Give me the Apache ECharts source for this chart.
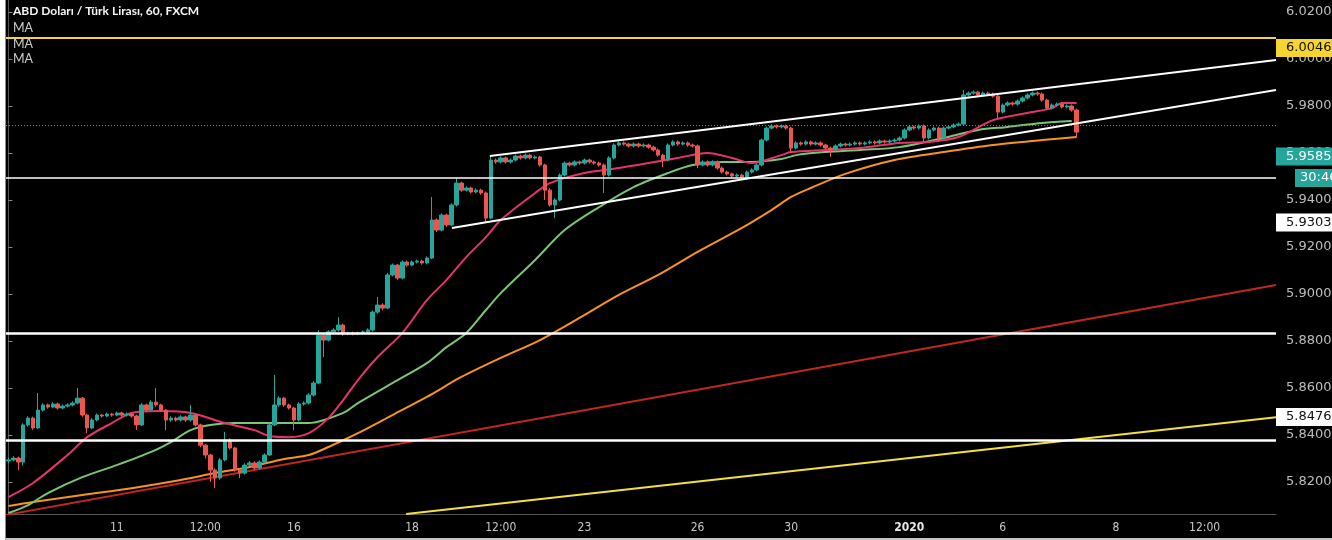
<!DOCTYPE html>
<html><head><meta charset="utf-8">
<script src="https://cdn.jsdelivr.net/npm/echarts@6/dist/echarts.min.js"></script>
<style>
html,body{margin:0;padding:0;background:#fff;width:1332px;height:540px;overflow:hidden}
#c{position:absolute;left:5px;top:0;width:1326px;height:538px;border-left:1px solid #8a8a8a;border-bottom:2px solid #c4c4c4;background:#000}
</style></head><body><div id="c"></div>
<script>
// ---------- data ----------
const slotCount = 258; // 2-hour slots across the visible time range
const tickSlots = [22, 40, 58, 82, 100, 117, 140, 159, 183, 202, 225, 243];
const tickLabels = ['11', '12:00', '16', '18', '12:00', '23', '26', '30', '2020', '6', '8', '12:00'];
const priceTicks = [5.82, 5.84, 5.86, 5.88, 5.90, 5.92, 5.94, 5.96, 5.98, 6.00, 6.02];
const titleText = 'ABD Doları / Türk Lirası, 60, FXCM';
const legendTexts = ['MA', 'MA', 'MA'];

// candles: [open, close, low, high]
const candles = [
[5.8290,5.8294,5.8280,5.8305],[5.8294,5.8302,5.8288,5.8310],[5.8302,5.8285,5.8251,5.8308],[5.8285,5.8443,5.8270,5.8450],
[5.8443,5.8472,5.8436,5.8480],[5.8472,5.8430,5.8422,5.8478],[5.8430,5.8506,5.8425,5.8579],[5.8506,5.8528,5.8500,5.8535],
[5.8528,5.8519,5.8512,5.8534],[5.8519,5.8532,5.8514,5.8540],[5.8532,5.8515,5.8508,5.8538],[5.8515,5.8523,5.8510,5.8530],
[5.8523,5.8528,5.8518,5.8535],[5.8528,5.8536,5.8522,5.8544],[5.8536,5.8557,5.8530,5.8600],[5.8557,5.8485,5.8478,5.8562],
[5.8485,5.8430,5.8408,5.8490],[5.8430,5.8464,5.8425,5.8472],[5.8464,5.8485,5.8458,5.8492],[5.8485,5.8481,5.8474,5.8490],
[5.8481,5.8489,5.8476,5.8496],[5.8489,5.8485,5.8478,5.8494],[5.8485,5.8494,5.8480,5.8500],[5.8494,5.8485,5.8478,5.8499],
[5.8485,5.8489,5.8479,5.8496],[5.8489,5.8481,5.8474,5.8494],[5.8481,5.8443,5.8421,5.8486],[5.8443,5.8528,5.8438,5.8536],
[5.8528,5.8506,5.8498,5.8534],[5.8506,5.8540,5.8500,5.8548],[5.8540,5.8528,5.8520,5.8600],[5.8528,5.8506,5.8498,5.8533],
[5.8506,5.8464,5.8421,5.8510],[5.8464,5.8472,5.8456,5.8480],[5.8472,5.8464,5.8457,5.8478],[5.8464,5.8477,5.8458,5.8484],
[5.8477,5.8464,5.8456,5.8482],[5.8464,5.8485,5.8458,5.8528],[5.8485,5.8443,5.8436,5.8490],[5.8443,5.8357,5.8348,5.8448],
[5.8357,5.8315,5.8300,5.8362],[5.8315,5.8251,5.8200,5.8320],[5.8251,5.8217,5.8174,5.8258],[5.8217,5.8294,5.8210,5.8302],
[5.8294,5.8379,5.8288,5.8413],[5.8379,5.8345,5.8338,5.8386],[5.8345,5.8251,5.8244,5.8350],[5.8251,5.8238,5.8217,5.8258],
[5.8238,5.8272,5.8232,5.8280],[5.8272,5.8281,5.8266,5.8290],[5.8281,5.8260,5.8252,5.8288],[5.8260,5.8285,5.8254,5.8292],
[5.8285,5.8315,5.8280,5.8322],[5.8315,5.8443,5.8310,5.8450],[5.8443,5.8528,5.8438,5.8655],[5.8528,5.8557,5.8520,5.8565],
[5.8557,5.8528,5.8520,5.8562],[5.8528,5.8515,5.8508,5.8534],[5.8515,5.8464,5.8421,5.8520],[5.8464,5.8532,5.8458,5.8540],
[5.8532,5.8536,5.8525,5.8543],[5.8536,5.8570,5.8530,5.8578],[5.8570,5.8621,5.8564,5.8630],[5.8621,5.8825,5.8616,5.8847],
[5.8825,5.8804,5.8732,5.8832],[5.8804,5.8839,5.8798,5.8846],[5.8839,5.8847,5.8832,5.8855],[5.8847,5.8868,5.8840,5.8902],
[5.8868,5.8830,5.8822,5.8874],[5.8830,5.8834,5.8825,5.8840],[5.8834,5.8830,5.8824,5.8840],[5.8830,5.8834,5.8825,5.8840],
[5.8834,5.8839,5.8828,5.8845],[5.8839,5.8847,5.8832,5.8854],[5.8847,5.8923,5.8840,5.8930],[5.8923,5.8953,5.8916,5.8987],
[5.8953,5.8940,5.8930,5.8960],[5.8940,5.9081,5.8935,5.9090],[5.9081,5.9123,5.9075,5.9130],[5.9123,5.9068,5.9060,5.9128],
[5.9068,5.9136,5.9062,5.9143],[5.9136,5.9123,5.9116,5.9142],[5.9123,5.9136,5.9118,5.9143],[5.9136,5.9140,5.9130,5.9146],
[5.9140,5.9132,5.9125,5.9146],[5.9132,5.9153,5.9126,5.9160],[5.9153,5.9315,5.9148,5.9413],[5.9315,5.9272,5.9264,5.9322],
[5.9272,5.9336,5.9266,5.9344],[5.9336,5.9294,5.9286,5.9342],[5.9294,5.9379,5.9288,5.9386],[5.9379,5.9472,5.9372,5.9494],
[5.9472,5.9442,5.9435,5.9478],[5.9442,5.9451,5.9436,5.9458],[5.9451,5.9434,5.9427,5.9457],[5.9434,5.9442,5.9428,5.9449],
[5.9442,5.9430,5.9422,5.9448],[5.9430,5.9323,5.9302,5.9436],[5.9323,5.9570,5.9318,5.9591],[5.9570,5.9562,5.9554,5.9577],
[5.9562,5.9579,5.9556,5.9586],[5.9579,5.9562,5.9555,5.9585],[5.9562,5.9570,5.9556,5.9577],[5.9570,5.9587,5.9564,5.9594],
[5.9587,5.9579,5.9572,5.9593],[5.9579,5.9591,5.9573,5.9598],[5.9591,5.9579,5.9572,5.9597],[5.9579,5.9583,5.9573,5.9590],
[5.9583,5.9549,5.9542,5.9588],[5.9549,5.9442,5.9400,5.9554],[5.9442,5.9379,5.9372,5.9450],[5.9379,5.9400,5.9323,5.9408],
[5.9400,5.9506,5.9394,5.9513],[5.9506,5.9557,5.9500,5.9564],[5.9557,5.9549,5.9542,5.9563],[5.9549,5.9562,5.9543,5.9569],
[5.9562,5.9557,5.9550,5.9568],[5.9557,5.9570,5.9551,5.9577],[5.9570,5.9562,5.9555,5.9576],[5.9562,5.9557,5.9550,5.9568],
[5.9557,5.9549,5.9542,5.9563],[5.9549,5.9506,5.9430,5.9555],[5.9506,5.9579,5.9500,5.9586],[5.9579,5.9634,5.9573,5.9641],
[5.9634,5.9643,5.9628,5.9650],[5.9643,5.9638,5.9631,5.9649],[5.9638,5.9630,5.9623,5.9644],[5.9630,5.9638,5.9624,5.9645],
[5.9638,5.9630,5.9623,5.9644],[5.9630,5.9634,5.9624,5.9641],[5.9634,5.9625,5.9618,5.9640],[5.9625,5.9613,5.9606,5.9631],
[5.9613,5.9591,5.9584,5.9619],[5.9591,5.9570,5.9540,5.9597],[5.9570,5.9634,5.9564,5.9641],[5.9634,5.9647,5.9628,5.9654],
[5.9647,5.9638,5.9631,5.9653],[5.9638,5.9643,5.9632,5.9650],[5.9643,5.9634,5.9627,5.9649],[5.9634,5.9630,5.9623,5.9640],
[5.9630,5.9549,5.9536,5.9636],[5.9549,5.9562,5.9543,5.9569],[5.9562,5.9549,5.9542,5.9568],[5.9549,5.9562,5.9543,5.9569],
[5.9562,5.9536,5.9529,5.9568],[5.9536,5.9519,5.9512,5.9542],[5.9519,5.9511,5.9504,5.9525],[5.9511,5.9502,5.9495,5.9517],
[5.9502,5.9506,5.9496,5.9513],[5.9506,5.9498,5.9491,5.9512],[5.9498,5.9519,5.9492,5.9526],[5.9519,5.9528,5.9513,5.9535],
[5.9528,5.9549,5.9522,5.9556],[5.9549,5.9655,5.9543,5.9662],[5.9655,5.9706,5.9649,5.9713],[5.9706,5.9715,5.9700,5.9722],
[5.9715,5.9711,5.9704,5.9721],[5.9711,5.9715,5.9705,5.9722],[5.9715,5.9706,5.9699,5.9721],[5.9706,5.9621,5.9600,5.9712],
[5.9621,5.9643,5.9615,5.9650],[5.9643,5.9638,5.9631,5.9649],[5.9638,5.9647,5.9632,5.9654],[5.9647,5.9638,5.9631,5.9653],
[5.9638,5.9643,5.9632,5.9650],[5.9643,5.9634,5.9627,5.9649],[5.9634,5.9621,5.9614,5.9640],[5.9621,5.9613,5.9583,5.9627],
[5.9613,5.9630,5.9607,5.9637],[5.9630,5.9638,5.9624,5.9645],[5.9638,5.9634,5.9627,5.9644],[5.9634,5.9638,5.9628,5.9645],
[5.9638,5.9643,5.9632,5.9650],[5.9643,5.9638,5.9631,5.9649],[5.9638,5.9643,5.9632,5.9650],[5.9643,5.9647,5.9637,5.9654],
[5.9647,5.9643,5.9636,5.9653],[5.9643,5.9651,5.9637,5.9658],[5.9651,5.9647,5.9640,5.9657],[5.9647,5.9651,5.9641,5.9658],
[5.9651,5.9655,5.9645,5.9662],[5.9655,5.9664,5.9649,5.9671],[5.9664,5.9698,5.9658,5.9705],[5.9698,5.9711,5.9692,5.9718],
[5.9711,5.9706,5.9699,5.9717],[5.9706,5.9715,5.9700,5.9722],[5.9715,5.9664,5.9647,5.9721],[5.9664,5.9698,5.9658,5.9705],
[5.9698,5.9706,5.9692,5.9713],[5.9706,5.9664,5.9647,5.9712],[5.9664,5.9706,5.9658,5.9713],[5.9706,5.9711,5.9700,5.9718],
[5.9711,5.9719,5.9705,5.9726],[5.9719,5.9723,5.9713,5.9730],[5.9723,5.9847,5.9717,5.9868],[5.9847,5.9855,5.9841,5.9862],
[5.9855,5.9859,5.9849,5.9866],[5.9859,5.9847,5.9840,5.9865],[5.9847,5.9855,5.9841,5.9862],[5.9855,5.9851,5.9844,5.9861],
[5.9851,5.9842,5.9835,5.9857],[5.9842,5.9774,5.9749,5.9848],[5.9774,5.9804,5.9768,5.9811],[5.9804,5.9813,5.9798,5.9820],
[5.9813,5.9808,5.9801,5.9819],[5.9808,5.9821,5.9802,5.9828],[5.9821,5.9834,5.9815,5.9841],[5.9834,5.9847,5.9828,5.9854],
[5.9847,5.9855,5.9841,5.9862],[5.9855,5.9851,5.9844,5.9861],[5.9851,5.9825,5.9818,5.9857],[5.9825,5.9791,5.9784,5.9831],
[5.9791,5.9804,5.9785,5.9811],[5.9804,5.9808,5.9798,5.9815],[5.9808,5.9796,5.9789,5.9814],[5.9796,5.9800,5.9790,5.9807],
[5.9800,5.9783,5.9776,5.9806],[5.9783,5.9689,5.9668,5.9789]
];

// moving averages: [slot, value]
const maFast = [[0,5.8136],[5,5.8196],[12,5.8315],[16,5.8391],[21,5.8451],[25,5.8494],[31,5.8502],[37,5.8494],[44,5.8451],[50,5.8421],[53,5.8396],[57,5.8391],[61,5.8408],[65,5.8472],[68,5.8549],[71,5.8634],[75,5.8732],[80,5.8834],[85,5.8974],[89,5.9060],[93,5.9157],[97,5.9242],[100,5.9315],[107,5.9430],[110,5.9472],[117,5.9515],[124,5.9536],[130,5.9557],[136,5.9579],[142,5.9600],[147,5.9579],[151,5.9557],[157,5.9591],[159,5.9604],[166,5.9613],[173,5.9621],[181,5.9643],[187,5.9647],[193,5.9668],[200,5.9740],[207,5.9770],[212,5.9791],[214,5.9813],[217,5.9813]];
const maMid = [[0,5.8068],[4,5.8102],[8,5.8153],[15,5.8221],[22,5.8272],[29,5.8328],[33,5.8370],[37,5.8421],[41,5.8443],[46,5.8451],[53,5.8451],[61,5.8451],[68,5.8494],[71,5.8536],[78,5.8621],[85,5.8706],[89,5.8774],[93,5.8834],[97,5.8932],[100,5.9004],[107,5.9145],[113,5.9272],[120,5.9370],[127,5.9455],[134,5.9515],[139,5.9549],[145,5.9562],[151,5.9562],[157,5.9574],[160,5.9591],[166,5.9604],[173,5.9613],[181,5.9625],[190,5.9664],[197,5.9698],[203,5.9711],[210,5.9728],[216,5.9736]];
const maSlow = [[0,5.8098],[5,5.8115],[15,5.8145],[25,5.8174],[35,5.8209],[42,5.8238],[49,5.8264],[56,5.8298],[61,5.8315],[65,5.8349],[71,5.8408],[78,5.8485],[85,5.8562],[92,5.8647],[100,5.8728],[108,5.8804],[116,5.8898],[124,5.8996],[132,5.9081],[140,5.9179],[149,5.9281],[155,5.9357],[159,5.9413],[163,5.9451],[170,5.9511],[180,5.9570],[190,5.9604],[200,5.9634],[210,5.9655],[217,5.9668]];

// drawn trend lines: [slot, price]
const channelUpper = [[97.8,5.9587],[257.5,5.9996]];
const channelLower = [[90.1,5.9281],[257.5,5.9868]];
const redTrend = [[-0.5,5.8060],[257.5,5.9038]];
const yellowTrend = [[80.8,5.8064],[257.5,5.8476]];

// horizontal levels
const yellowLevel = 6.0089;
const whiteLevels = [5.9494, 5.8834, 5.8379];
const lastCloseLevel = 5.9719;

// price tags on the axis
const tagYellow = ['6.00464', 6.00464];
const tagLast = ['5.95855', 5.95855];
const tagTimer = ['30:46', 5.9494];
const tagWhite1 = ['5.93038', 5.93038];
const tagWhite2 = ['5.84763', 5.84763];

// ---------- chart ----------
const categories = [];
for (let i = 0; i < slotCount; i++) categories.push(String(i));
const showTick = (idx) => tickSlots.indexOf(idx) >= 0;

const tagMark = (t, bg, fg, dist, padLeft) => ({
  yAxis: t[1],
  lineStyle: { color: 'rgba(0,0,0,0)', width: 0 },
  label: {
    show: true, position: 'end', distance: dist, formatter: t[0], opacity: 1,
    color: fg, backgroundColor: bg, padding: [3, 8, 2, padLeft],
    fontFamily: 'DejaVu Sans', fontSize: 13
  }
});

const headerTexts = [
  { type: 'text', left: 7, top: 5, z: 100, style: { text: titleText, fill: '#f4f4f4', font: 'bold 12px Lato' } },
  { type: 'text', left: 7, top: 21, z: 100, style: { text: legendTexts[0], fill: '#cccccc', font: '12.5px Lato' } },
  { type: 'text', left: 7, top: 37, z: 100, style: { text: legendTexts[1], fill: '#cccccc', font: '12.5px Lato' } },
  { type: 'text', left: 7, top: 52, z: 100, style: { text: legendTexts[2], fill: '#cccccc', font: '12.5px Lato' } }
];

const chart = echarts.init(document.getElementById('c'), null, { renderer: 'canvas' });
chart.setOption({
  animation: false,
  backgroundColor: '#000',
  graphic: headerTexts,
  grid: { left: 0, right: 56, top: 0, bottom: 24, outerBoundsMode: 'none', containLabel: false },
  xAxis: [{
    type: 'category', data: categories, boundaryGap: true,
    axisLine: { lineStyle: { color: '#555' } },
    axisTick: { alignWithLabel: true, interval: showTick, length: 4, lineStyle: { color: '#777' } },
    axisLabel: {
      interval: showTick, margin: 8, color: '#c8c8c8', fontSize: 12, fontFamily: 'DejaVu Sans Condensed, Liberation Sans',
      formatter: (v, idx) => { const t = tickLabels[tickSlots.indexOf(idx)]; return t === '2020' ? '{b|2020}' : t; },
      rich: { b: { fontWeight: 'bold', color: '#e8e8e8', fontSize: 12, fontFamily: 'DejaVu Sans Condensed, Liberation Sans' } }
    },
    splitLine: { show: false }
  }, {
    type: 'value', min: -0.5, max: slotCount - 0.5, show: false
  }],
  yAxis: {
    type: 'value', position: 'right', min: 5.8064, max: 6.0251, scale: true,
    axisLine: { show: true, lineStyle: { color: '#555' } },
    axisTick: { show: true, length: 4, customValues: priceTicks, lineStyle: { color: '#888' } },
    axisLabel: { customValues: priceTicks, margin: 10, color: '#bdbdbd', fontSize: 13, fontFamily: 'DejaVu Sans',
      formatter: (v) => v.toFixed(5) },
    splitLine: { show: false }
  },
  series: [
    {
      type: 'line', xAxisIndex: 1, data: redTrend, showSymbol: false, z: 3,
      lineStyle: { color: '#c0281f', width: 2 }
    },
    {
      type: 'line', xAxisIndex: 1, data: yellowTrend, showSymbol: false, z: 3,
      lineStyle: { color: '#f3e03a', width: 2 }
    },
    {
      type: 'line', xAxisIndex: 1, data: maSlow, showSymbol: false, smooth: 0.3, z: 4,
      lineStyle: { color: '#f7931e', width: 2 }
    },
    {
      type: 'line', xAxisIndex: 1, data: maMid, showSymbol: false, smooth: 0.3, z: 4,
      lineStyle: { color: '#7cc576', width: 2 }
    },
    {
      type: 'line', xAxisIndex: 1, data: maFast, showSymbol: false, smooth: 0.3, z: 4,
      lineStyle: { color: '#e5336b', width: 2 }
    },
    {
      type: 'candlestick', xAxisIndex: 0, data: candles, barWidth: 4, z: 5, clip: false,
      itemStyle: { color: '#26a69a', color0: '#ec5650', borderColor: '#26a69a', borderColor0: '#ec5650', borderWidth: 1 },
      markLine: {
        symbol: 'none', silent: true, animation: false, z: 6, precision: 6,
        label: { show: false },
        data: [
          { yAxis: yellowLevel, lineStyle: { color: '#f7d530', width: 2, type: 'solid' } },
          { yAxis: whiteLevels[0], lineStyle: { color: '#ffffff', width: 1.6, type: 'solid' } },
          { yAxis: whiteLevels[1], lineStyle: { color: '#ffffff', width: 2.6, type: 'solid' } },
          { yAxis: whiteLevels[2], lineStyle: { color: '#ffffff', width: 2.6, type: 'solid' } },
          { yAxis: lastCloseLevel, lineStyle: { color: '#26a69a', width: 1, type: [1, 2] } },
          tagMark(tagYellow, '#f7d530', '#111', 0, 10),
          tagMark(tagLast, '#26a69a', '#fff', 0, 10),
          tagMark(tagTimer, '#26a69a', '#fff', 19, 5),
          tagMark(tagWhite1, '#ffffff', '#111', 0, 10),
          tagMark(tagWhite2, '#ffffff', '#111', 0, 10)
        ]
      }
    },
    {
      type: 'line', xAxisIndex: 1, data: channelLower, showSymbol: false, z: 7,
      lineStyle: { color: '#ffffff', width: 2 }
    },
    {
      type: 'line', xAxisIndex: 1, data: channelUpper, showSymbol: false, z: 7,
      lineStyle: { color: '#ffffff', width: 2 }
    }
  ]
});
</script></body></html>
